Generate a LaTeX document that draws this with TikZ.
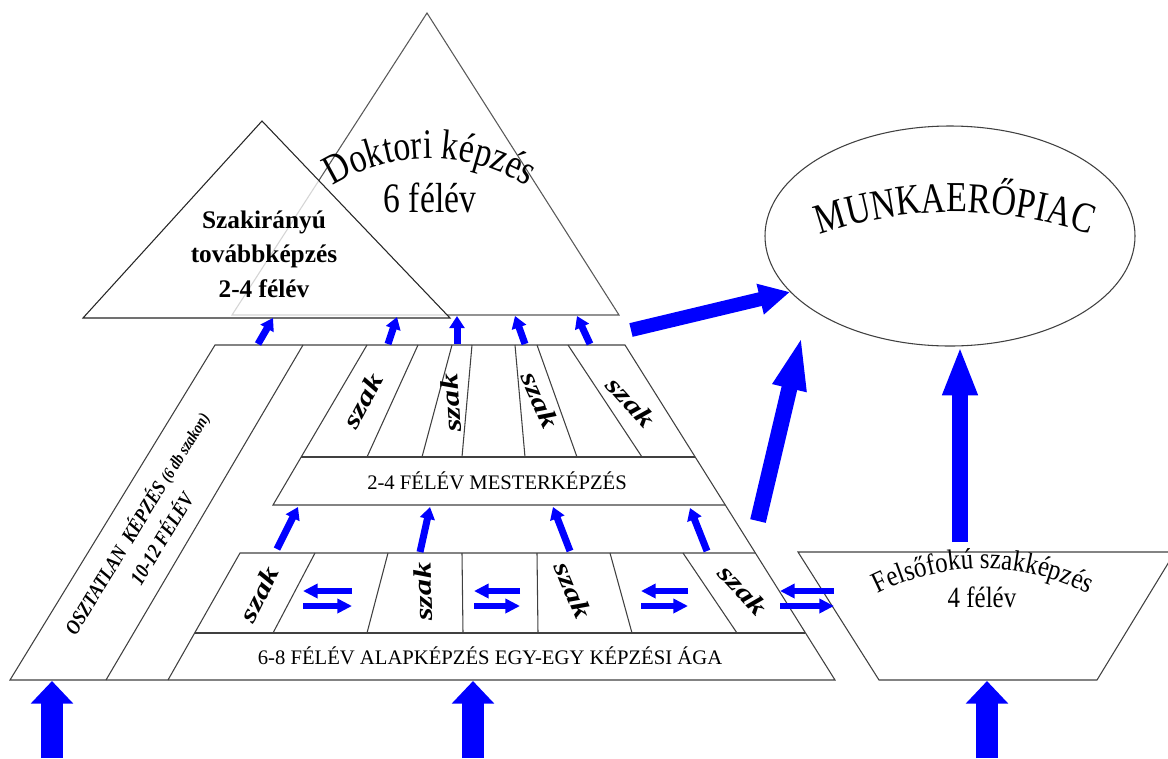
\documentclass[tikz,border=0pt]{standalone}
\usepackage{fontspec}
\setmainfont{Liberation Serif}
\newfontfamily\wordart[FakeStretch=0.8]{Liberation Serif}
\newfontfamily\narrowfont[FakeStretch=0.85]{Liberation Serif}
\newfontfamily\tallfont[FakeStretch=1.3]{Liberation Serif}
\usetikzlibrary{arrows.meta,decorations.text}

\begin{document}
\begin{tikzpicture}[x=0.75pt, y=-0.75pt,
  pyrline/.style={draw=black!75, line width=0.8pt},
  smallup/.style={blue, line width=5.25pt, -{Triangle[width=11pt,length=9pt]}},
  dbl/.style={blue, line width=4.5pt, -{Triangle[width=10.5pt,length=11pt]}},
  bigup/.style={blue, line width=16.5pt, -{Triangle[width=31pt,length=17pt]}},
  szak/.style={font=\tallfont\bfseries\itshape\fontsize{19}{22}\selectfont, inner sep=0pt},
  bandtext/.style={font=\fontsize{15.5}{18}\selectfont, inner sep=0pt}]
\useasboundingbox (0,0) rectangle (1168,758);
\draw [black!65, line width=0.8pt, fill=white] (232,315) -- (427,13) -- (619,315) -- cycle;
\draw [black!85, line width=0.8pt, fill=white, fill opacity=0.75] (83,318) -- (262,121) -- (450,318) -- cycle;
\node [font=\bfseries\fontsize{19}{26}\selectfont, align=center] (szakirany) at (264,254) {Szakirányú\\továbbképzés\\2-4 félév};
\path [decorate, decoration={text along path, text align=center,
  text={|\wordart\fontsize{31.5}{36}\selectfont|Doktori képzés}}]
  (313,201) .. controls (381,144) and (479,144) .. (547,201);
\node [font=\wordart\fontsize{31.5}{36}\selectfont, anchor=base] (doktfelev) at (430,212) {6 félév};
\draw [pyrline] (10,680) -- (835,680) -- (625,345) -- (215,345) -- cycle;
\draw [pyrline] (303,345) -- (106,680);
\draw [pyrline] (367,345) -- (273,505) -- (725,505);
\draw [pyrline] (301,457) -- (695,457);
\draw [pyrline] (755,553) -- (240,553) -- (168,680);
\draw [pyrline] (195,633) -- (805,633);
\foreach \xa/\xb in {418/367, 452/422, 472/462, 515/525, 537/577, 568/642}
  \draw [pyrline] (\xa,345) -- (\xb,457);
\foreach \xa/\xb in {315/273, 388/367, 462/463, 537/538, 610/632, 683/737}
  \draw [pyrline] (\xa,553) -- (\xb,633);
\node [bandtext] (mester) at (497,481) {2-4 FÉLÉV MESTERKÉPZÉS};
\node [bandtext] (alap) at (490,656) {6-8 FÉLÉV ALAPKÉPZÉS EGY-EGY KÉPZÉSI ÁGA};
\node [szak, rotate=62] (msz1) at (363,401) {szak};
\node [szak, rotate=93] (msz2) at (451,403) {szak};
\node [szak, rotate=-66] (msz3) at (540,400) {szak};
\node [szak, rotate=-48] (msz4) at (631,402) {szak};
\node [szak, rotate=64] (asz1) at (259,594) {szak};
\node [szak, rotate=92] (asz2) at (423,592) {szak};
\node [szak, rotate=-67] (asz3) at (573,590) {szak};
\node [szak, rotate=-47] (asz4) at (743,590) {szak};
\node [font=\narrowfont\bfseries\itshape\fontsize{15.5}{22}\selectfont, rotate=58.5, align=center] (osztatlan) at (148,530)
  {OSZTATLAN\ \ KÉPZÉS {\fontsize{12.5}{14}\selectfont(6 db szakon)}\\10-12 FÉLÉV};
\draw [pyrline] (798,552) -- (1175,552) -- (1097,680) -- (879,680) -- cycle;
\path [decorate, decoration={text along path, text align=center,
  text={|\narrowfont\fontsize{22}{24}\selectfont|Felsőfokú szakképzés}}]
  (857,606) .. controls (934,556) and (1032,556) .. (1109,606);
\node [font=\narrowfont\fontsize{22}{24}\selectfont, anchor=base] (fszfelev) at (982,607) {4 félév};
\draw [pyrline] (950,236) ellipse [x radius=185, y radius=110];
\path [decorate, decoration={text along path, text align=center,
  text={|\wordart\fontsize{32}{36}\selectfont|MUNKAERŐPIAC}}]
  (786,248) .. controls (894,200) and (1016,200) .. (1124,248);
\foreach \xa/\ya/\xb/\yb in {258/344/273/318, 388/344/397/317, 457/344/457/316, 525/344/515/316, 590/344/577/316,
  277/549/298/507, 420/552/430/507, 570/551/553/507, 707/551/690/508}
  \draw [smallup] (\xa,\ya) -- (\xb,\yb);
\foreach \xa/\xb in {303/352, 474/520, 641/688, 780/834} {
  \draw [dbl] (\xb,591) -- (\xa,591);
  \draw [dbl] (\xa,606) -- (\xb,606);
}
\draw [blue, line width=10.5pt, -{Triangle[width=22pt,length=23pt]}] (631,330) -- (790,292);
\draw [blue, line width=12pt, -{Triangle[width=23pt,length=41pt]}] (758,521) -- (802,335);
\draw [blue, line width=12pt, -{Triangle[width=24pt,length=37pt]}] (960,542) -- (960,346);
\foreach \xb in {52, 473, 987}
  \draw [bigup] (\xb,758) -- (\xb,681);
\end{tikzpicture}
\end{document}
